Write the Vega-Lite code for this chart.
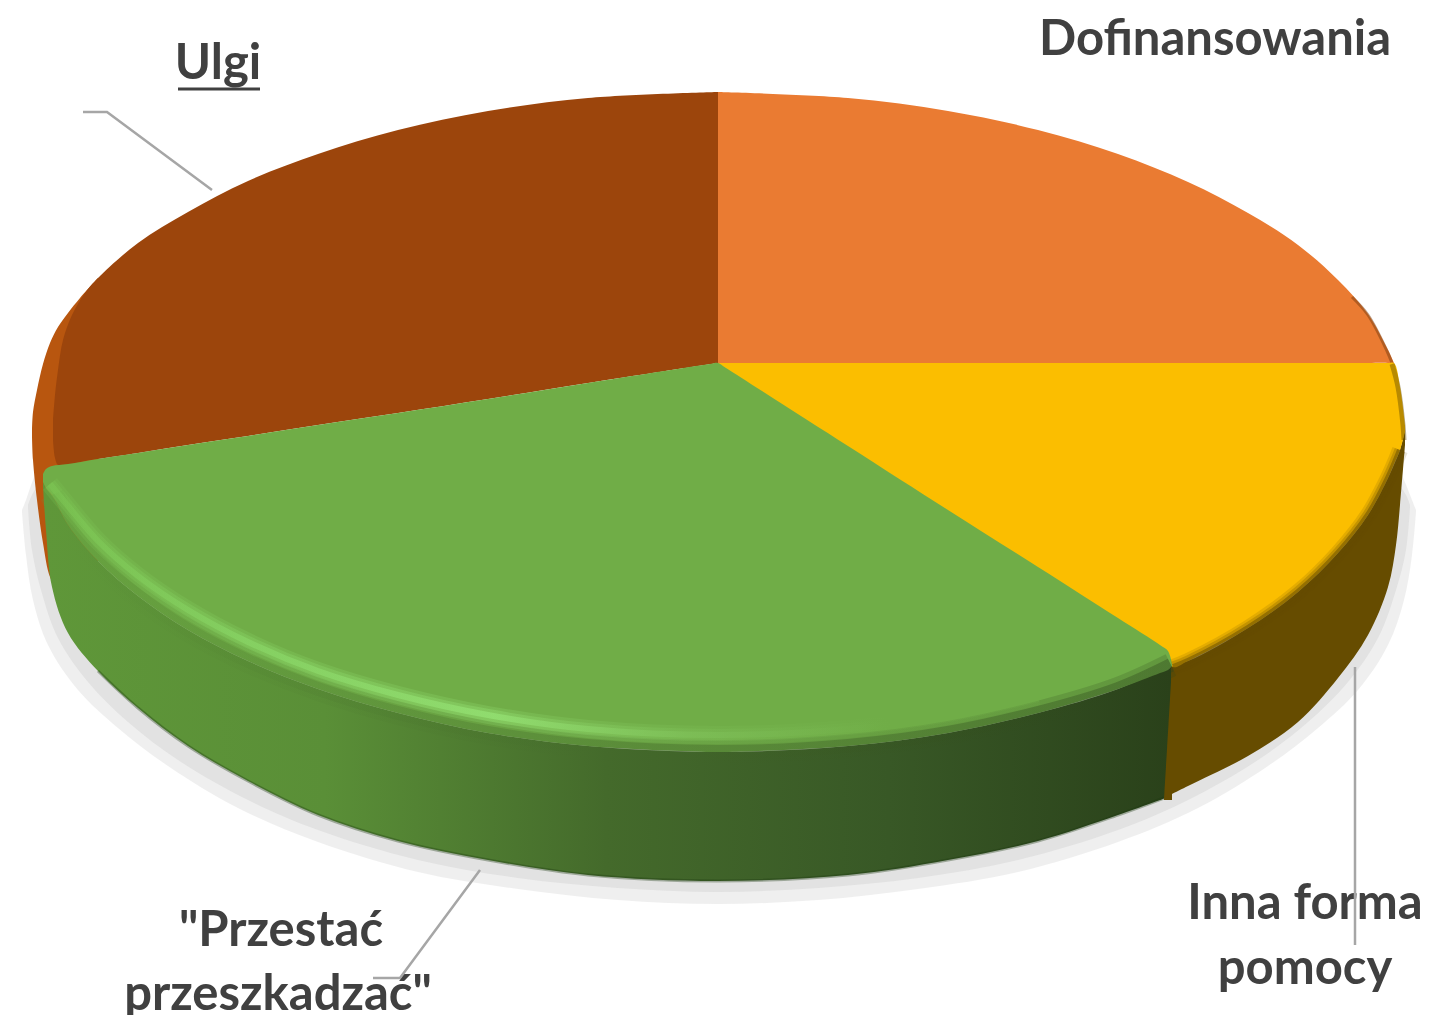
{"$schema":"https://vega.github.io/schema/vega-lite/v6.json","autosize":{"type":"none"},"width":1433,"height":1015,"padding":0,"background":"white","view":{"stroke":null},
"config":{"style":{"cell":{"stroke":null}}},
"datasets":{
"shapes":[
{"p":"sh1","x":22,"y":510,"y2":512},{"p":"sh1","x":26,"y":500,"y2":555},{"p":"sh1","x":33,"y":480,"y2":600},{"p":"sh1","x":48,"y":450,"y2":645},{"p":"sh1","x":78,"y":450,"y2":690},{"p":"sh1","x":118,"y":450,"y2":728},{"p":"sh1","x":168,"y":450,"y2":766},{"p":"sh1","x":238,"y":450,"y2":808},{"p":"sh1","x":318,"y":450,"y2":842},{"p":"sh1","x":418,"y":450,"y2":872},{"p":"sh1","x":518,"y":450,"y2":889},{"p":"sh1","x":618,"y":450,"y2":900},{"p":"sh1","x":718,"y":450,"y2":904},{"p":"sh1","x":818,"y":450,"y2":900},{"p":"sh1","x":918,"y":450,"y2":889},{"p":"sh1","x":1018,"y":450,"y2":872},{"p":"sh1","x":1118,"y":450,"y2":842},{"p":"sh1","x":1198,"y":450,"y2":808},{"p":"sh1","x":1268,"y":450,"y2":766},{"p":"sh1","x":1318,"y":450,"y2":728},{"p":"sh1","x":1358,"y":450,"y2":690},{"p":"sh1","x":1388,"y":450,"y2":645},{"p":"sh1","x":1404,"y":480,"y2":600},{"p":"sh1","x":1412,"y":500,"y2":555},{"p":"sh1","x":1416,"y":510,"y2":512},
{"p":"sh2","x":28,"y":505,"y2":507},{"p":"sh2","x":32,"y":495,"y2":550},{"p":"sh2","x":41,"y":480,"y2":590},{"p":"sh2","x":58,"y":450,"y2":638},{"p":"sh2","x":88,"y":450,"y2":682},{"p":"sh2","x":128,"y":450,"y2":722},{"p":"sh2","x":178,"y":450,"y2":760},{"p":"sh2","x":248,"y":450,"y2":800},{"p":"sh2","x":318,"y":450,"y2":830},{"p":"sh2","x":418,"y":450,"y2":860},{"p":"sh2","x":518,"y":450,"y2":878},{"p":"sh2","x":618,"y":450,"y2":888},{"p":"sh2","x":718,"y":450,"y2":892},{"p":"sh2","x":818,"y":450,"y2":888},{"p":"sh2","x":918,"y":450,"y2":878},{"p":"sh2","x":1018,"y":450,"y2":860},{"p":"sh2","x":1118,"y":450,"y2":830},{"p":"sh2","x":1188,"y":450,"y2":800},{"p":"sh2","x":1258,"y":450,"y2":760},{"p":"sh2","x":1308,"y":450,"y2":722},{"p":"sh2","x":1348,"y":450,"y2":682},{"p":"sh2","x":1378,"y":450,"y2":638},{"p":"sh2","x":1396,"y":480,"y2":590},{"p":"sh2","x":1406,"y":495,"y2":550},{"p":"sh2","x":1410,"y":505,"y2":507},
{"p":"rim","x":32,"y":430,"y2":436},{"p":"rim","x":33,"y":412,"y2":460},{"p":"rim","x":37,"y":390,"y2":500},{"p":"rim","x":43,"y":364,"y2":543},{"p":"rim","x":50,"y":343,"y2":577},{"p":"rim","x":58,"y":327,"y2":590},{"p":"rim","x":68,"y":313,"y2":600},{"p":"rim","x":80,"y":298,"y2":610},{"p":"rim","x":98,"y":278,"y2":620},
{"p":"brown","x":53,"y":420,"y2":440},{"p":"brown","x":55,"y":395,"y2":458},{"p":"brown","x":58,"y":370,"y2":465},{"p":"brown","x":63,"y":340,"y2":465},{"p":"brown","x":72,"y":315,"y2":464},{"p":"brown","x":85,"y":293,"y2":461},{"p":"brown","x":98,"y":278,"y2":459},{"p":"brown","x":138,"y":243,"y2":453},{"p":"brown","x":188,"y":212,"y2":445},{"p":"brown","x":248,"y":181,"y2":436},{"p":"brown","x":318,"y":154,"y2":425},{"p":"brown","x":398,"y":130,"y2":413},{"p":"brown","x":488,"y":111,"y2":399},{"p":"brown","x":588,"y":98,"y2":383},{"p":"brown","x":718,"y":92,"y2":363},
{"p":"orange","x":718,"y":92,"y2":363},{"p":"orange","x":848,"y":98,"y2":363},{"p":"orange","x":948,"y":111,"y2":363},{"p":"orange","x":1038,"y":130,"y2":363},{"p":"orange","x":1118,"y":154,"y2":363},{"p":"orange","x":1188,"y":182,"y2":363},{"p":"orange","x":1248,"y":213,"y2":363},{"p":"orange","x":1298,"y":245,"y2":363},{"p":"orange","x":1338,"y":280,"y2":363},{"p":"orange","x":1368,"y":314,"y2":363},{"p":"orange","x":1388,"y":350,"y2":363},{"p":"orange","x":1394,"y":363,"y2":364},
{"p":"wally","x":1160,"y":668,"y2":800},{"p":"wally","x":1188,"y":661,"y2":786},{"p":"wally","x":1248,"y":628,"y2":756},{"p":"wally","x":1298,"y":592,"y2":722},{"p":"wally","x":1338,"y":553,"y2":678},{"p":"wally","x":1368,"y":515,"y2":635},{"p":"wally","x":1388,"y":478,"y2":587},{"p":"wally","x":1396,"y":460,"y2":545},{"p":"wally","x":1400,"y":450,"y2":505},{"p":"wally","x":1405,"y":430,"y2":445},
{"p":"wallg","x":43,"y":482,"y2":486},{"p":"wallg","x":46,"y":488,"y2":530},{"p":"wallg","x":52,"y":495,"y2":587},{"p":"wallg","x":68,"y":525,"y2":633},{"p":"wallg","x":98,"y":561,"y2":671},{"p":"wallg","x":138,"y":596,"y2":708},{"p":"wallg","x":188,"y":630,"y2":746},{"p":"wallg","x":248,"y":661,"y2":781},{"p":"wallg","x":318,"y":689,"y2":815},{"p":"wallg","x":398,"y":713,"y2":841},{"p":"wallg","x":488,"y":733,"y2":860},{"p":"wallg","x":588,"y":746,"y2":875},{"p":"wallg","x":718,"y":752,"y2":881},{"p":"wallg","x":848,"y":746,"y2":875},{"p":"wallg","x":948,"y":733,"y2":860},{"p":"wallg","x":1038,"y":713,"y2":841},{"p":"wallg","x":1118,"y":689,"y2":815},{"p":"wallg","x":1171,"y":665,"y2":796},
{"p":"patch","x":1164,"y":799,"y2":800},{"p":"patch","x":1172,"y":665,"y2":800},
{"p":"yellow","x":718,"y":363,"y2":364},{"p":"yellow","x":726,"y":363,"y2":369},{"p":"yellow","x":848,"y":363,"y2":447},{"p":"yellow","x":948,"y":363,"y2":511},{"p":"yellow","x":1038,"y":363,"y2":568},{"p":"yellow","x":1118,"y":363,"y2":619},{"p":"yellow","x":1160,"y":363,"y2":646},{"p":"yellow","x":1168,"y":363,"y2":652},{"p":"yellow","x":1173,"y":363,"y2":667},{"p":"yellow","x":1188,"y":363,"y2":661},{"p":"yellow","x":1248,"y":363,"y2":628},{"p":"yellow","x":1298,"y":363,"y2":592},{"p":"yellow","x":1338,"y":363,"y2":553},{"p":"yellow","x":1368,"y":363,"y2":515},{"p":"yellow","x":1388,"y":363,"y2":478},{"p":"yellow","x":1394,"y":363,"y2":464},{"p":"yellow","x":1400,"y":387,"y2":450},{"p":"yellow","x":1405,"y":425,"y2":432},
{"p":"green","x":43,"y":474,"y2":482},{"p":"green","x":46,"y":469,"y2":488},{"p":"green","x":52,"y":466,"y2":495},{"p":"green","x":68,"y":464,"y2":525},{"p":"green","x":98,"y":459,"y2":561},{"p":"green","x":138,"y":453,"y2":596},{"p":"green","x":188,"y":445,"y2":630},{"p":"green","x":248,"y":436,"y2":661},{"p":"green","x":318,"y":425,"y2":689},{"p":"green","x":398,"y":413,"y2":713},{"p":"green","x":488,"y":399,"y2":733},{"p":"green","x":588,"y":383,"y2":746},{"p":"green","x":710,"y":364,"y2":752},{"p":"green","x":718,"y":363,"y2":752},{"p":"green","x":726,"y":368,"y2":752},{"p":"green","x":848,"y":446,"y2":746},{"p":"green","x":948,"y":510,"y2":733},{"p":"green","x":1038,"y":567,"y2":713},{"p":"green","x":1118,"y":618,"y2":689},{"p":"green","x":1160,"y":645,"y2":673},{"p":"green","x":1168,"y":651,"y2":670},{"p":"green","x":1172,"y":664,"y2":666}
],
"edges":[
{"p":"edgey","x":1173,"y":667},{"p":"edgey","x":1188,"y":661},{"p":"edgey","x":1248,"y":628},{"p":"edgey","x":1298,"y":592},{"p":"edgey","x":1338,"y":553},{"p":"edgey","x":1368,"y":515},{"p":"edgey","x":1388,"y":478},{"p":"edgey","x":1396,"y":460},{"p":"edgey","x":1400,"y":450},
{"p":"edgey2","x":1392,"y":364},{"p":"edgey2","x":1398,"y":387},{"p":"edgey2","x":1403,"y":425},{"p":"edgey2","x":1404,"y":440},
{"p":"rimo","x":1352,"y":297},{"p":"rimo","x":1368,"y":315},{"p":"rimo","x":1387,"y":351},{"p":"rimo","x":1392,"y":363},
{"p":"edgeg","x":52,"y":495},{"p":"edgeg","x":68,"y":525},{"p":"edgeg","x":98,"y":561},{"p":"edgeg","x":138,"y":596},{"p":"edgeg","x":188,"y":630},{"p":"edgeg","x":248,"y":661},{"p":"edgeg","x":318,"y":689},{"p":"edgeg","x":398,"y":713},{"p":"edgeg","x":488,"y":733},{"p":"edgeg","x":588,"y":746},{"p":"edgeg","x":718,"y":752},{"p":"edgeg","x":848,"y":746},{"p":"edgeg","x":948,"y":733},{"p":"edgeg","x":1038,"y":713},{"p":"edgeg","x":1118,"y":689},{"p":"edgeg","x":1171,"y":665},
{"p":"high","x":50,"y":484},{"p":"high","x":68,"y":506},{"p":"high","x":98,"y":541},{"p":"high","x":138,"y":576},{"p":"high","x":188,"y":610},{"p":"high","x":248,"y":642},{"p":"high","x":318,"y":671},{"p":"high","x":398,"y":695},{"p":"high","x":488,"y":715},{"p":"high","x":588,"y":729},{"p":"high","x":718,"y":735},{"p":"high","x":848,"y":729},{"p":"high","x":948,"y":716},{"p":"high","x":1038,"y":696},
{"p":"base","x":98,"y":671},{"p":"base","x":138,"y":708},{"p":"base","x":188,"y":746},{"p":"base","x":248,"y":781},{"p":"base","x":318,"y":815},{"p":"base","x":398,"y":841},{"p":"base","x":488,"y":860},{"p":"base","x":588,"y":875},{"p":"base","x":718,"y":881},{"p":"base","x":848,"y":875},{"p":"base","x":948,"y":860},{"p":"base","x":1038,"y":841},{"p":"base","x":1118,"y":815},{"p":"base","x":1164,"y":798}
],
"labels":[
{"t":"Dofinansowania","x":1215,"y":40},{"t":"Ulgi","x":218,"y":64},{"t":"\"Przestać","x":281,"y":931},{"t":"przeszkadzać\"","x":278,"y":995},{"t":"Inna forma","x":1305,"y":904},{"t":"pomocy","x":1305,"y":969}
],
"leaders":[
{"k":"a","o":1,"x":83,"y":112},{"k":"a","o":2,"x":107,"y":112},{"k":"a","o":3,"x":212,"y":190},
{"k":"b","o":1,"x":480,"y":870},{"k":"b","o":2,"x":400,"y":978},{"k":"b","o":3,"x":373,"y":978},
{"k":"c","o":1,"x":1355,"y":667},{"k":"c","o":2,"x":1355,"y":945}
],
"underline":[{"k":"u","o":1,"x":178,"y":89},{"k":"u","o":2,"x":260,"y":89}]
},
"encoding":{
"x":{"field":"x","type":"quantitative","scale":{"domain":[0,1433]},"axis":null},
"y":{"field":"y","type":"quantitative","scale":{"domain":[0,1015],"reverse":true},"axis":null}
},
"layer":[
{"data":{"name":"shapes"},"transform":[{"filter":"datum.p=='sh1'"}],"mark":{"type":"area","interpolate":"catmull-rom","color":"#dcdcdc","opacity":0.45},"encoding":{"y2":{"field":"y2"}}},
{"data":{"name":"shapes"},"transform":[{"filter":"datum.p=='sh2'"}],"mark":{"type":"area","interpolate":"catmull-rom","color":"#d8d8d8","opacity":0.6},"encoding":{"y2":{"field":"y2"}}},
{"data":{"name":"shapes"},"transform":[{"filter":"datum.p=='rim'"}],"mark":{"type":"area","interpolate":"catmull-rom","color":"#B8560F"},"encoding":{"y2":{"field":"y2"}}},
{"data":{"name":"shapes"},"transform":[{"filter":"datum.p=='brown'"}],"mark":{"type":"area","interpolate":"catmull-rom","color":"#9C450C"},"encoding":{"y2":{"field":"y2"}}},
{"data":{"name":"shapes"},"transform":[{"filter":"datum.p=='orange'"}],"mark":{"type":"area","interpolate":"catmull-rom","color":"#EA7B32"},"encoding":{"y2":{"field":"y2"}}},
{"data":{"name":"edges"},"transform":[{"filter":"datum.p=='rimo'"}],"mark":{"type":"line","interpolate":"catmull-rom","stroke":"#7A3E10","strokeWidth":3,"opacity":0.5},"encoding":{}},
{"data":{"name":"shapes"},"transform":[{"filter":"datum.p=='wally'"}],"mark":{"type":"area","interpolate":"catmull-rom","color":"#664C00"},"encoding":{"y2":{"field":"y2"}}},
{"data":{"name":"shapes"},"transform":[{"filter":"datum.p=='wallg'"}],"mark":{"type":"area","interpolate":"catmull-rom","fill":{"gradient":"linear","x1":0,"y1":0,"x2":1,"y2":0,"stops":[{"offset":0,"color":"#5F9739"},{"offset":0.25,"color":"#5A8F37"},{"offset":0.5,"color":"#446A2B"},{"offset":0.75,"color":"#385826"},{"offset":1,"color":"#2A411A"}]}},"encoding":{"y2":{"field":"y2"}}},
{"data":{"name":"edges"},"transform":[{"filter":"datum.p=='base'"}],"mark":{"type":"line","interpolate":"catmull-rom","stroke":"#1E3A10","strokeWidth":3,"opacity":0.35},"encoding":{}},
{"data":{"name":"shapes"},"transform":[{"filter":"datum.p=='patch'"}],"mark":{"type":"area","color":"#664C00"},"encoding":{"y2":{"field":"y2"}}},
{"data":{"name":"shapes"},"transform":[{"filter":"datum.p=='yellow'"}],"mark":{"type":"area","interpolate":"catmull-rom","color":"#FBBE00"},"encoding":{"y2":{"field":"y2"}}},
{"data":{"name":"shapes"},"transform":[{"filter":"datum.p=='green'"}],"mark":{"type":"area","interpolate":"catmull-rom","color":"#70AD47"},"encoding":{"y2":{"field":"y2"}}},
{"data":{"name":"edges"},"transform":[{"filter":"datum.p=='edgey'"}],"mark":{"type":"line","interpolate":"catmull-rom","stroke":"#664C00","strokeWidth":16,"opacity":0.15},"encoding":{}},
{"data":{"name":"edges"},"transform":[{"filter":"datum.p=='edgey'"}],"mark":{"type":"line","interpolate":"catmull-rom","stroke":"#664C00","strokeWidth":11,"opacity":0.25},"encoding":{}},
{"data":{"name":"edges"},"transform":[{"filter":"datum.p=='edgey'"}],"mark":{"type":"line","interpolate":"catmull-rom","stroke":"#664C00","strokeWidth":6,"opacity":0.5},"encoding":{}},
{"data":{"name":"edges"},"transform":[{"filter":"datum.p=='edgey2'"}],"mark":{"type":"line","interpolate":"catmull-rom","stroke":"#664C00","strokeWidth":5,"opacity":0.45},"encoding":{}},
{"data":{"name":"edges"},"transform":[{"filter":"datum.p=='edgeg'"}],"mark":{"type":"line","interpolate":"catmull-rom","strokeWidth":24,"opacity":0.2,"stroke":{"gradient":"linear","x1":0,"y1":0,"x2":1,"y2":0,"stops":[{"offset":0,"color":"#5F9739"},{"offset":0.5,"color":"#446A2B"},{"offset":1,"color":"#2A411A"}]}},"encoding":{}},
{"data":{"name":"edges"},"transform":[{"filter":"datum.p=='edgeg'"}],"mark":{"type":"line","interpolate":"catmull-rom","strokeWidth":14,"opacity":0.35,"stroke":{"gradient":"linear","x1":0,"y1":0,"x2":1,"y2":0,"stops":[{"offset":0,"color":"#5F9739"},{"offset":0.5,"color":"#446A2B"},{"offset":1,"color":"#2A411A"}]}},"encoding":{}},
{"data":{"name":"edges"},"transform":[{"filter":"datum.p=='high'"}],"mark":{"type":"line","interpolate":"catmull-rom","strokeWidth":18,"opacity":0.2,"stroke":{"gradient":"linear","x1":0,"y1":0,"x2":1,"y2":0,"stops":[{"offset":0,"color":"#7CC653"},{"offset":0.2,"color":"#8CDB6A"},{"offset":0.45,"color":"#9BEB7B"},{"offset":0.65,"color":"#80C25A"},{"offset":0.85,"color":"#70AD47"},{"offset":1,"color":"#70AD47"}]}},"encoding":{}},
{"data":{"name":"edges"},"transform":[{"filter":"datum.p=='high'"}],"mark":{"type":"line","interpolate":"catmull-rom","strokeWidth":12,"opacity":0.3,"stroke":{"gradient":"linear","x1":0,"y1":0,"x2":1,"y2":0,"stops":[{"offset":0,"color":"#7CC653"},{"offset":0.2,"color":"#8CDB6A"},{"offset":0.45,"color":"#9BEB7B"},{"offset":0.65,"color":"#80C25A"},{"offset":0.85,"color":"#70AD47"},{"offset":1,"color":"#70AD47"}]}},"encoding":{}},
{"data":{"name":"edges"},"transform":[{"filter":"datum.p=='high'"}],"mark":{"type":"line","interpolate":"catmull-rom","strokeWidth":6,"opacity":0.55,"stroke":{"gradient":"linear","x1":0,"y1":0,"x2":1,"y2":0,"stops":[{"offset":0,"color":"#7CC653"},{"offset":0.2,"color":"#8CDB6A"},{"offset":0.45,"color":"#9BEB7B"},{"offset":0.65,"color":"#80C25A"},{"offset":0.85,"color":"#70AD47"},{"offset":1,"color":"#70AD47"}]}},"encoding":{}},
{"data":{"name":"labels"},"mark":{"type":"text","font":"Lato","fontWeight":"bold","fontSize":49,"color":"#404040","align":"center","baseline":"middle"},"encoding":{"text":{"field":"t"}}},
{"data":{"name":"underline"},"mark":{"type":"line","color":"#404040","strokeWidth":3},"encoding":{"order":{"field":"o"}}},
{"data":{"name":"leaders"},"mark":{"type":"line","color":"#A6A6A6","strokeWidth":2.5},"encoding":{"detail":{"field":"k"},"order":{"field":"o"}}}
]}
